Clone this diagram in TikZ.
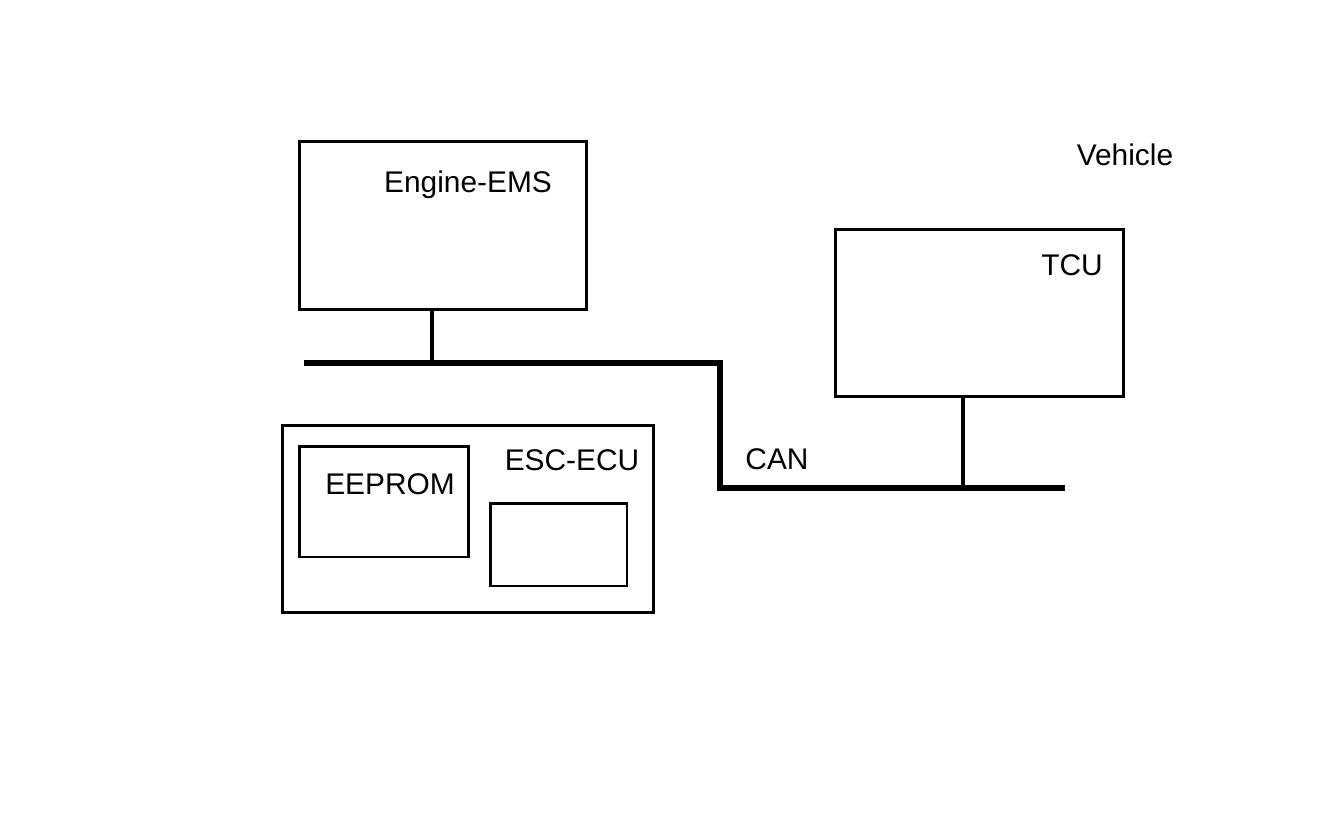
\documentclass[tikz,border=0pt]{standalone}
\usepackage{fontspec}
\setmainfont{Liberation Sans}

\tikzset{
  ecubox/.style={draw, line width=1.7pt, inner sep=0pt},
  lbl/.style={font=\fontsize{17}{20}\selectfont, inner sep=0pt},
  bus/.style={line width=3.4pt, line join=miter},
  tap/.style={line width=2.3pt}
}

\begin{document}
\begin{tikzpicture}[x=0.02cm, y=-0.02cm]
			\useasboundingbox (0,0) rectangle (1328,824);

			% vehicle label
			\node[lbl] (vehicle) at (1125,155) {Vehicle};

			% engine control unit
			\node[ecubox, minimum width=5.76cm, minimum height=3.38cm] (ems) at (443,225.5) {};
			\node[lbl] (emslbl) at (468,185) {Engine-EMS};

			% transmission control unit
			\node[ecubox, minimum width=5.78cm, minimum height=3.36cm] (tcu) at (979.5,313) {};
			\node[lbl] (tculbl) at (1072,265) {TCU};

			% ESC-ECU with EEPROM and empty block
			\node[ecubox, minimum width=7.44cm, minimum height=3.76cm] (esc) at (468,519) {};
			\node[lbl] (esclbl) at (572,460) {ESC-ECU};
			\node[ecubox, minimum width=3.4cm, minimum height=2.22cm] (eeprom) at (384,501.5) {};
			\node[lbl] (eepromlbl) at (390,484) {EEPROM};
			\node[ecubox, minimum width=2.74cm, minimum height=1.66cm] (core) at (558.5,544.5) {};

			% CAN bus
			\coordinate (busW) at (304,363);
			\coordinate (bendA) at (720,363);
			\coordinate (bendB) at (720,488);
			\coordinate (busE) at (1065,488);
			\draw[bus] (busW) -- (bendA) -- (bendB) -- (busE);
			\node[lbl] (canlbl) at (777,459) {CAN};

			% taps onto the bus
			\coordinate (emstap) at (432,363);
			\draw[tap] (emstap) -- (emstap |- ems.south);
			\coordinate (tcutap) at (963,488);
			\draw[tap] (tcutap) -- (tcutap |- tcu.south);
		\end{tikzpicture}
\end{document}
